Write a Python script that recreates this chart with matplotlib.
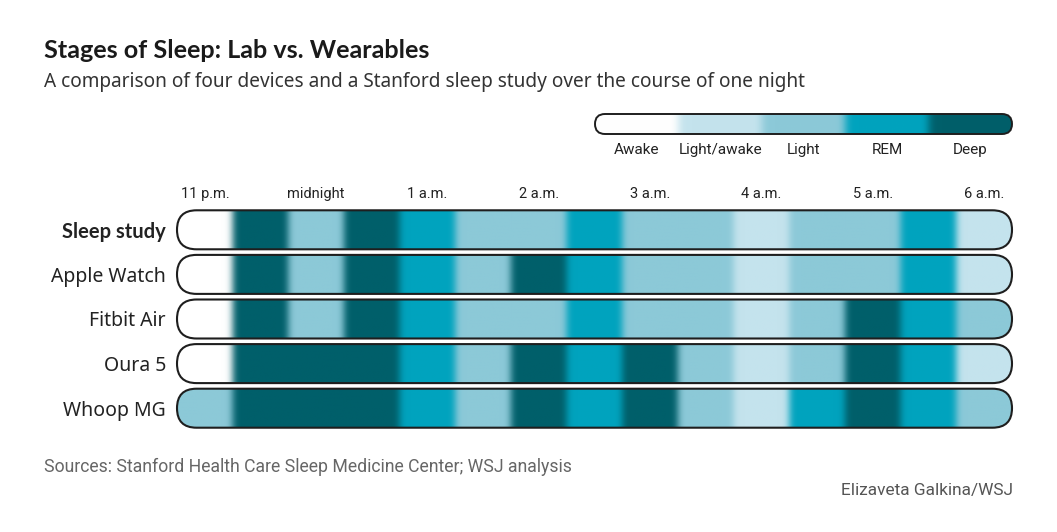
import numpy as np
import matplotlib.pyplot as plt
from matplotlib.patches import FancyBboxPatch
from matplotlib.colors import to_rgb

# sleep stages, coded 0..4
stage_names = ["Awake", "Light/awake", "Light", "REM", "Deep"]
stage_colors = ["#ffffff", "#c4e3ed", "#8cc9d8", "#00a3be", "#005f6a"]

devices = ["Sleep study", "Apple Watch", "Fitbit Air", "Oura 5", "Whoop MG"]

# 30-minute blocks starting at 10:45 p.m.
start_hour = 22.75
block_hours = 0.5
sleep_study = [0, 4, 2, 4, 3, 2, 2, 3, 2, 2, 1, 2, 2, 3, 1]
apple_watch = [0, 4, 2, 4, 3, 2, 4, 3, 2, 2, 1, 2, 2, 3, 1]
fitbit_air  = [0, 4, 2, 4, 3, 2, 2, 3, 2, 2, 1, 2, 4, 3, 2]
oura_5      = [0, 4, 4, 4, 3, 2, 4, 3, 4, 2, 1, 2, 4, 3, 1]
whoop_mg    = [2, 4, 4, 4, 3, 2, 4, 3, 4, 2, 1, 3, 4, 3, 2]
rows = [sleep_study, apple_watch, fitbit_air, oura_5, whoop_mg]

hour_ticks = [23, 24, 25, 26, 27, 28, 29, 30]
hour_labels = ["11 p.m.", "midnight", "1 a.m.", "2 a.m.", "3 a.m.",
               "4 a.m.", "5 a.m.", "6 a.m."]

W, H = 1057, 532
fig = plt.figure(figsize=(W / 100, H / 100), dpi=100)
fig.patch.set_facecolor("white")

TXT = "#222222"
SMALL = ["Roboto", "DejaVu Sans"]
MAIN = ["Noto Sans", "DejaVu Sans"]
BOLD = ["Lato", "DejaVu Sans"]


def blurred_strip(codes, block_px, sigma_px, samples=40):
    rgb = np.array([to_rgb(stage_colors[c]) for c in codes])
    strip = np.repeat(rgb, samples, axis=0)
    sig = sigma_px / block_px * samples
    k = np.arange(-int(3 * sig) - 1, int(3 * sig) + 2)
    kern = np.exp(-0.5 * (k / sig) ** 2)
    kern /= kern.sum()
    pad = len(k) // 2
    padded = np.pad(strip, ((pad, pad), (0, 0)), mode="edge")
    out = np.stack([np.convolve(padded[:, i], kern, mode="valid")
                    for i in range(3)], axis=1)
    return out[None, :, :]


def rounded_bar(ax, x0, x1, yc, h, x_ppu, y_ppu, img, lw=1.5):
    asp = x_ppu / y_ppu
    hh = h / asp
    patch = FancyBboxPatch((x0, (yc - h / 2)), x1 - x0, h,
                           boxstyle=f"round,pad=0,rounding_size={hh / 2}",
                           mutation_aspect=asp, facecolor="none",
                           edgecolor="#1e1e1e", linewidth=lw, zorder=3,
                           clip_on=False)
    ax.add_patch(patch)
    im = ax.imshow(img, extent=[x0, x1, yc + h / 2, yc - h / 2],
                   aspect="auto", interpolation="bilinear", zorder=1)
    im.set_clip_path(patch)


# ---- main chart ----
n_blocks = len(sleep_study)
x_lo = start_hour
x_hi = start_hour + n_blocks * block_hours
left_px, right_px = 177, 1012
top_px, pitch = 207.5, 44.6
ax = fig.add_axes([left_px / W, 1 - (top_px + pitch * len(rows)) / H,
                   (right_px - left_px) / W, pitch * len(rows) / H])
x_ppu = (right_px - left_px) / (x_hi - x_lo)
y_ppu = pitch
block_px = x_ppu * block_hours
bar_h = 39 / pitch

for i, codes in enumerate(rows):
    img = blurred_strip(codes, block_px, 3.5)
    rounded_bar(ax, x_lo, x_hi, i, bar_h, x_ppu, y_ppu, img)

ax.set_xlim(x_lo, x_hi)
ax.set_ylim(len(rows) - 0.5, -0.5)
for s in ax.spines.values():
    s.set_visible(False)
ax.xaxis.tick_top()
ax.set_xticks(hour_ticks, hour_labels, fontfamily=SMALL, fontsize=10.5,
              color=TXT)
ax.set_yticks(range(len(devices)), devices, fontfamily=MAIN, fontsize=14,
              color=TXT)
first = ax.get_yticklabels()[0]
first.set_fontfamily(BOLD)
first.set_fontweight("bold")
first.set_fontsize(14.5)
ax.tick_params(axis="x", length=0, pad=5)
ax.tick_params(axis="y", length=0, pad=8)

# ---- legend ----
lg_l, lg_r, lg_t, lg_b = 595, 1012, 114, 134
lax = fig.add_axes([lg_l / W, 1 - lg_b / H, (lg_r - lg_l) / W,
                    (lg_b - lg_t) / H])
n_st = len(stage_names)
lx_ppu = (lg_r - lg_l) / n_st
ly_ppu = lg_b - lg_t
limg = blurred_strip(list(range(n_st)), lx_ppu, 4.0)
rounded_bar(lax, 0, n_st, 0.5, 1.0, lx_ppu, ly_ppu, limg, lw=1.4)
lax.set_xlim(0, n_st)
lax.set_ylim(1, 0)
lax.axis("off")
for i, name in enumerate(stage_names):
    lax.text(i + 0.5, 1.45, name, ha="center", va="top", fontfamily=SMALL,
             fontsize=11, color=TXT)

# ---- titles & notes ----
fig.text(44 / W, 1 - 50 / H, "Stages of Sleep: Lab vs. Wearables",
         fontfamily=BOLD, fontweight="bold", fontsize=18.1, color="#1a1a1a",
         va="center", ha="left")
fig.text(44 / W, 1 - 82.5 / H,
         "A comparison of four devices and a Stanford sleep study over the course of one night",
         fontfamily=MAIN, fontsize=13.7, color="#333333", va="center",
         ha="left")
fig.text(44 / W, 1 - 467 / H,
         "Sources: Stanford Health Care Sleep Medicine Center; WSJ analysis",
         fontfamily=SMALL, fontsize=12.7, color="#666666", va="center",
         ha="left")
fig.text(1013 / W, 1 - 491 / H, "Elizaveta Galkina/WSJ", fontfamily=SMALL,
         fontsize=12.4, color="#555555", va="center", ha="right")

fig.savefig("out.png", dpi=100, facecolor="white")
